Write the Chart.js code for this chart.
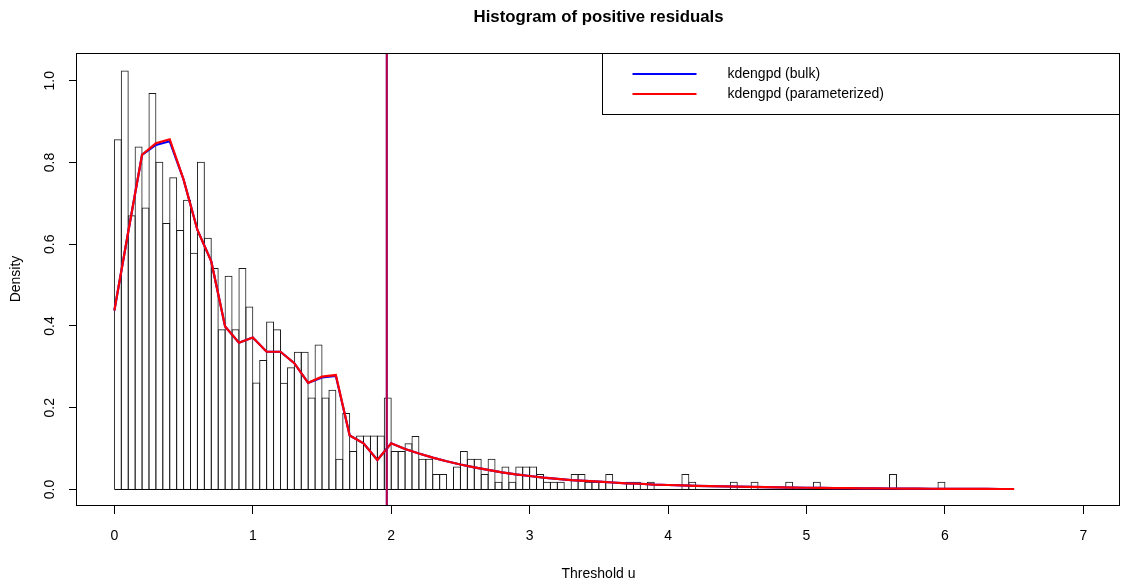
<!DOCTYPE html>
<html>
<head>
<meta charset="utf-8">
<title>Histogram of positive residuals</title>
<script src="https://cdn.jsdelivr.net/npm/chart.js@4.4.1/dist/chart.umd.min.js"></script>
<style>
  html, body { margin: 0; padding: 0; background: #fff; }
  #wrap { width: 1122px; height: 586px; position: relative; }
</style>
</head>
<body>
<div id="wrap"><canvas id="histChart"></canvas></div>
<script>
// histogram of positive residuals, bins of width 0.05 starting at 0
var binWidth = 0.05
var density = [
  0.857, 1.025, 0.671, 0.839, 0.690, 0.970, 0.802, 0.652, 0.764, 0.635,
  0.709, 0.579, 0.802, 0.616, 0.542, 0.392, 0.523, 0.392, 0.542, 0.448,
  0.262, 0.317, 0.411, 0.392, 0.261, 0.299, 0.337, 0.337, 0.225, 0.355,
  0.225, 0.244, 0.075, 0.187, 0.094, 0.132, 0.132, 0.132, 0.132, 0.225,
  0.094, 0.094, 0.113, 0.131, 0.075, 0.075, 0.038, 0.038, 0, 0.056,
  0.094, 0.075, 0.075, 0.038, 0.075, 0.019, 0.056, 0.019, 0.056, 0.056,
  0.056, 0.038, 0.019, 0.019, 0.019, 0, 0.038, 0.038, 0.019, 0.019,
  0.019, 0.038, 0, 0, 0.019, 0.019, 0, 0.019, 0, 0,
  0, 0, 0.038, 0.019, 0, 0, 0, 0, 0, 0.019,
  0, 0, 0.019, 0, 0, 0, 0, 0.019, 0, 0,
  0, 0.019, 0, 0, 0, 0, 0, 0, 0, 0,
  0, 0, 0.038, 0, 0, 0, 0, 0, 0, 0.019
]

// kdengpd fitted densities, evaluated every 0.1 from 0 to 6.5
var curveStep = 0.1
var bulkDensity = [
  0.438, 0.630, 0.819, 0.843, 0.852, 0.758, 0.635, 0.558, 0.399, 0.359,
  0.372, 0.337, 0.337, 0.309, 0.261, 0.274, 0.278, 0.132, 0.113, 0.072,
  0.113, 0.099, 0.088, 0.078, 0.069, 0.061, 0.054, 0.048, 0.042, 0.037,
  0.033, 0.029, 0.026, 0.023, 0.021, 0.019, 0.017, 0.015, 0.014, 0.012,
  0.011, 0.010, 0.009, 0.008, 0.0075, 0.0068, 0.0062, 0.0056, 0.0051, 0.0046,
  0.0042, 0.0038, 0.0035, 0.0032, 0.0029, 0.0026, 0.0024, 0.0022, 0.0020, 0.0018,
  0.0016, 0.0015, 0.0014, 0.0013, 0.0012, 0.0011
]
var paramDensity = [
  0.438, 0.630, 0.819, 0.847, 0.857, 0.758, 0.635, 0.558, 0.399, 0.359,
  0.372, 0.337, 0.337, 0.309, 0.261, 0.276, 0.280, 0.132, 0.113, 0.072,
  0.113, 0.099, 0.088, 0.078, 0.069, 0.061, 0.054, 0.048, 0.042, 0.037,
  0.033, 0.029, 0.026, 0.023, 0.021, 0.019, 0.017, 0.015, 0.014, 0.012,
  0.011, 0.010, 0.009, 0.008, 0.0075, 0.0068, 0.0062, 0.0056, 0.0051, 0.0046,
  0.0042, 0.0038, 0.0035, 0.0032, 0.0029, 0.0026, 0.0024, 0.0022, 0.0020, 0.0018,
  0.0016, 0.0015, 0.0014, 0.0013, 0.0012, 0.0011
]

// threshold u for both fits
var thresholdU = 1.968

var xTicks = [0, 1, 2, 3, 4, 5, 6, 7]
var yTicks = [0, 0.2, 0.4, 0.6, 0.8, 1.0]
var legendLabels = ['kdengpd (bulk)', 'kdengpd (parameterized)']
var xRange = [-0.27, 7.265]
var yRange = [-0.038, 1.068]

Chart.defaults.font.family = '"Liberation Sans", Arial, Helvetica, sans-serif'
Chart.defaults.font.size = 14
Chart.defaults.color = '#000'

var histPoints = density.map(function(d, i) {
  return { x: (i + 0.5) * binWidth, y: d }
})
var bulkPoints = bulkDensity.map(function(d, i) { return { x: i * curveStep, y: d } })
var paramPoints = paramDensity.map(function(d, i) { return { x: i * curveStep, y: d } })
var baseline = [{ x: 0, y: 0 }, { x: density.length * binWidth, y: 0 }]
var thresholdLine = [{ x: thresholdU, y: yRange[0] }, { x: thresholdU, y: yRange[1] }]

// box round the plot region
var plotFrame = {
  id: 'plotFrame',
  afterDatasetsDraw: function(chart) {
    var ctx = chart.ctx, a = chart.chartArea
    ctx.save()
    ctx.strokeStyle = '#000'
    ctx.lineWidth = 1
    ctx.strokeRect(a.left - 0.5, a.top + 0.5, a.right - a.left, a.bottom - a.top)
    ctx.restore()
  }
}

// boxed legend in the top right corner of the plot
var cornerLegend = {
  id: 'cornerLegend',
  afterDraw: function(chart) {
    var ctx = chart.ctx, a = chart.chartArea
    var entries = chart.data.datasets.filter(function(d) { return d.inLegend })
    entries.sort(function(p, q) { return legendLabels.indexOf(p.label) - legendLabels.indexOf(q.label) })
    var right = a.right - 0.5, top = a.top + 0.5, left = right - 517
    var rowH = 20
    var h = rowH * (entries.length + 1) + 1
    ctx.save()
    ctx.fillStyle = '#fff'
    ctx.fillRect(left, top, right - left, h)
    ctx.strokeStyle = '#000'
    ctx.lineWidth = 1
    ctx.strokeRect(left, top, right - left, h)
    ctx.font = '14px "Liberation Sans", Arial, sans-serif'
    ctx.textBaseline = 'middle'
    ctx.textAlign = 'left'
    entries.forEach(function(d, k) {
      var y = Math.round(a.top + 21 + rowH * k)
      ctx.strokeStyle = d.borderColor
      ctx.lineWidth = 2
      ctx.beginPath()
      ctx.moveTo(left + 30, y)
      ctx.lineTo(left + 94, y)
      ctx.stroke()
      ctx.fillStyle = '#000'
      ctx.fillText(d.label, left + 125, y)
    })
    ctx.restore()
  }
}

var ctx = document.getElementById('histChart').getContext('2d')
var histChart = new Chart(ctx, {
  type: 'line',
  data: {
    datasets: [
      {
        type: 'line', label: 'u (parameterized)', data: thresholdLine,
        borderColor: 'rgba(255, 0, 0, 0.75)', borderWidth: 2, pointRadius: 0, order: 1
      },
      {
        type: 'line', label: 'u (bulk)', data: thresholdLine,
        borderColor: '#0000ff', borderWidth: 2, pointRadius: 0, order: 2
      },
      {
        type: 'line', label: legendLabels[1], data: paramPoints, inLegend: true,
        borderColor: '#ff0000', borderWidth: 2.2, pointRadius: 0, tension: 0, order: 3
      },
      {
        type: 'line', label: legendLabels[0], data: bulkPoints, inLegend: true,
        borderColor: '#0000ff', borderWidth: 2.2, pointRadius: 0, tension: 0, order: 4
      },
      {
        type: 'line', label: 'base', data: baseline,
        borderColor: '#000', borderWidth: 1, pointRadius: 0, order: 5
      },
      {
        type: 'bar', label: 'Density', data: histPoints,
        backgroundColor: 'rgba(0,0,0,0)', borderColor: '#1a1a1a', borderWidth: 1,
        borderSkipped: 'start', grouped: false,
        barPercentage: 1.145, categoryPercentage: 1, order: 6
      }
    ]
  },
  options: {
    responsive: true,
    maintainAspectRatio: false,
    animation: false,
    events: [],
    layout: { padding: { top: 0, right: 2, bottom: 0, left: 0 } },
    plugins: {
      legend: { display: false },
      tooltip: { enabled: false },
      title: {
        display: true,
        text: 'Histogram of positive residuals',
        color: '#000',
        fullSize: false,
        font: { size: 16.8, weight: 'bold' },
        padding: { top: 7.6, bottom: 25.24 }
      }
    },
    scales: {
      x: {
        type: 'linear', min: xRange[0], max: xRange[1], offset: false,
        afterBuildTicks: function(scale) {
          scale.ticks = xTicks.map(function(v) { return { value: v } })
        },
        afterFit: function(scale) { scale.height = 81 },
        grid: { drawOnChartArea: false, drawTicks: true, tickLength: 9, color: '#000', offset: false },
        border: { display: false },
        ticks: { maxRotation: 0, autoSkip: false, padding: 13.5, color: '#000', font: { size: 14 } },
        title: { display: true, text: 'Threshold u', color: '#000', font: { size: 14 }, padding: { top: 0, bottom: 3 } }
      },
      y: {
        type: 'linear', min: yRange[0], max: yRange[1],
        afterBuildTicks: function(scale) {
          scale.ticks = yTicks.map(function(v) { return { value: v } })
        },
        afterFit: function(scale) { scale.width = 77 },
        grid: { drawOnChartArea: false, drawTicks: true, tickLength: 8, color: '#000' },
        border: { display: false },
        ticks: {
          minRotation: 90, maxRotation: 90, crossAlign: 'center', padding: 9.5,
          autoSkip: false, color: '#000', font: { size: 14 },
          callback: function(v) { return Number(v).toFixed(1) }
        },
        title: { display: true, text: 'Density', color: '#000', font: { size: 14 }, padding: { top: 8, bottom: 0 } }
      }
    }
  },
  plugins: [plotFrame, cornerLegend]
})
</script>
</body>
</html>
